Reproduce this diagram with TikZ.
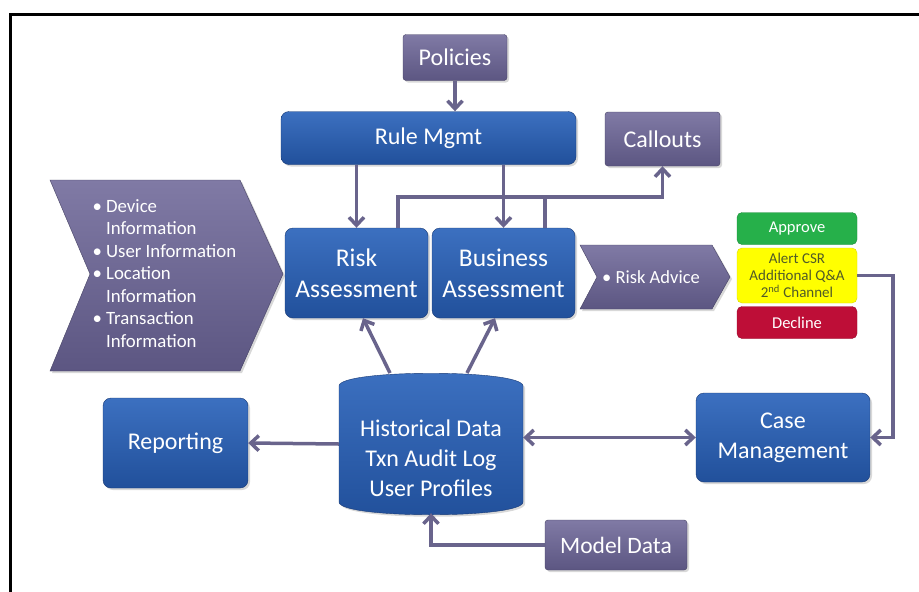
\documentclass[tikz,border=0pt]{standalone}
\usepackage{fontspec}
\setmainfont{Carlito}
\usetikzlibrary{calc,arrows.meta,shadows}
\definecolor{boxblue}{RGB}{33,80,155}
\definecolor{boxbluetop}{RGB}{60,112,192}
\definecolor{boxblueedge}{RGB}{24,58,118}
\definecolor{boxpurple}{RGB}{92,86,130}
\definecolor{boxpurpletop}{RGB}{128,122,165}
\definecolor{boxpurpleedge}{RGB}{70,66,100}
\definecolor{linepurple}{RGB}{105,100,140}
\definecolor{okgreen}{RGB}{38,176,74}
\definecolor{warnyellow}{RGB}{255,255,0}
\definecolor{warntext}{RGB}{80,90,40}
\definecolor{badred}{RGB}{190,14,55}

\tikzset{
    boxshadow/.style={drop shadow={opacity=0.3,shadow xshift=2pt,shadow yshift=-2pt}},
    bluebox/.style={rounded corners=8pt,draw=boxblueedge,top color=boxbluetop,bottom color=boxblue,
        text=white,align=center,inner sep=0pt,boxshadow},
    purplebox/.style={rounded corners=3pt,draw=boxpurpleedge,top color=boxpurpletop,bottom color=boxpurple,
        text=white,align=center,inner sep=0pt,boxshadow},
    chevron/.style={draw=boxpurpleedge,top color=boxpurpletop,bottom color=boxpurple,boxshadow},
    decision/.style={rounded corners=5pt,align=center,inner sep=0pt,minimum width=120pt},
    conn/.style={draw=linepurple,line width=3.5pt},
    big/.style={font=\fontsize{24}{30}\selectfont},
    mid/.style={font=\fontsize{24}{28}\selectfont},
}

\begin{document}
\begin{tikzpicture}[x=1pt,y=-1pt,>={Straight Barb[length=8pt,width=15pt]}]
    \useasboundingbox (0,0) rectangle (919,592);
    \fill[white] (0,0) rectangle (919,592);
    \draw[line width=3pt] (10,592) -- (10,14) -- (919,14);

    \node[purplebox,mid,minimum width=104pt,minimum height=46pt] (policies) at (455,57.5) {Policies};
    \node[bluebox,mid,minimum width=295pt,minimum height=53pt] (rule) at (428.5,138) {Rule Mgmt};
    \node[purplebox,mid,minimum width=115pt,minimum height=54pt] (callouts) at (662.5,139) {Callouts};
    \node[bluebox,font=\fontsize{25.5}{31}\selectfont,minimum width=143pt,minimum height=90pt] (risk) at (356.5,273) {Risk\\Assessment};
    \node[bluebox,font=\fontsize{25.5}{31}\selectfont,minimum width=143pt,minimum height=90pt] (business) at (503.5,273) {Business\\Assessment};
    \node[bluebox,big,minimum width=145pt,minimum height=90pt] (reporting) at (175.5,443) {Reporting};
    \node[bluebox,big,minimum width=174pt,minimum height=89pt] (casemgmt) at (783,437.5) {Case\\Management};
    \node[purplebox,font=\fontsize{23.5}{28}\selectfont,minimum width=142pt,minimum height=50pt] (modeldata) at (616,545) {Model Data};

    \path[chevron] (50,180) -- (240,180) -- (283,274) -- (240,371) -- (50,371) -- (90,274) -- cycle;
    \node[anchor=north west,text=white,align=left,font=\fontsize{18.8}{22.5}\selectfont] (info) at (89,196)
        {\textbullet~Device\\\phantom{\textbullet~}Information\\\textbullet~User Information\\
         \textbullet~Location\\\phantom{\textbullet~}Information\\\textbullet~Transaction\\
         \phantom{\textbullet~}Information};

    \path[chevron] (580,245) -- (712,245) -- (730,277) -- (712,309) -- (580,309) -- (597,277) -- cycle;
    \node[text=white,font=\fontsize{18.5}{22}\selectfont] (advice) at (651,277) {\textbullet~Risk Advice};

    \node[decision,fill=okgreen,draw=okgreen!80!black,text=white,minimum height=32pt,
        font=\fontsize{16.5}{19}\selectfont] (approve) at (797,228.5) {Approve};
    \node[decision,fill=warnyellow,draw=warnyellow!85!black,text=warntext,minimum height=55pt,
        font=\fontsize{15}{17}\selectfont] (alert) at (797,275.5) {Alert CSR\\Additional Q\&A\\2\textsuperscript{nd} Channel};
    \node[decision,fill=badred,draw=badred!80!black,text=white,minimum height=32pt,
        font=\fontsize{16.5}{19}\selectfont] (decline) at (797,322.5) {Decline};

    \node[minimum width=184pt,minimum height=138pt,inner sep=0pt] (db) at (431,444) {};
    \path[bluebox] (339,394) .. controls (339,369) and (523,369) .. (523,394) -- (523,494)
        .. controls (523,519) and (339,519) .. (339,494) -- cycle;
    \node[text=white,big,align=center] (dbtext) at (431,458) {Historical Data\\Txn Audit Log\\User Profiles};
    \coordinate (dbleft) at (390,373);
    \coordinate (dbright) at (467,373);

    \draw[conn,->] (policies) -- (policies |- rule.north);
    \foreach \blk in {risk, business}
        \draw[conn,->] (\blk |- rule.south) -- (\blk.north);
    \draw[conn] ([xshift=41.5pt]business.north) -- ++(0,-31);
    \draw[conn,->] ([xshift=41.5pt]risk.north) -- ++(0,-31) -| (callouts.south);
    \draw[conn,->] (dbleft) -- ([xshift=6.5pt]risk.south);
    \draw[conn,->] (dbright) -- ([xshift=-8.5pt]business.south);
    \draw[conn,->] (db.west) -- (reporting.east);
    \draw[conn,<->] (db.east |- casemgmt) -- (casemgmt.west);
    \draw[conn,->] (modeldata.west) -| (db.south);
    \draw[conn,->] (alert.east) -- ++(36,0) |- (casemgmt.east);
\end{tikzpicture}
\end{document}
